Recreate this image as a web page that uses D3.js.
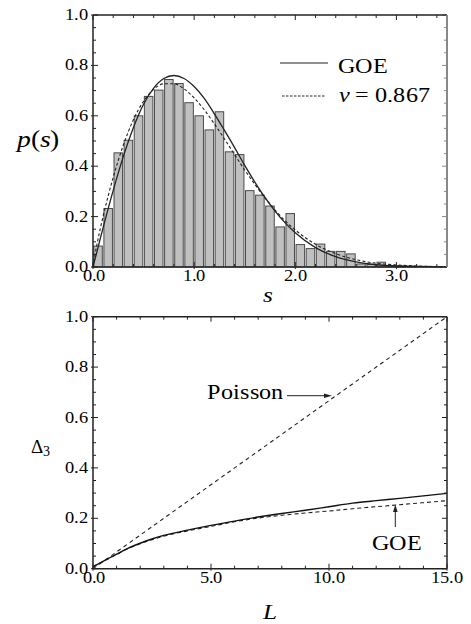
<!DOCTYPE html>
<html><head><meta charset="utf-8">
<script src="https://cdn.jsdelivr.net/npm/d3@7"></script>
<style>
@font-face{font-family:"CS";font-style:normal;src:local("Liberation Serif"),local("LiberationSerif");}
@font-face{font-family:"CS";font-style:italic;src:local("Liberation Serif Italic"),local("LiberationSerif-Italic");}
svg text{font-family:"CS","Liberation Serif",Tinos,Times,serif !important}
</style>
</head><body style="margin:0"><svg id="c" width="471" height="624"></svg>
<script>
// ---------- data ----------
const binStarts = [0.0,0.1,0.2,0.3,0.4,0.5,0.6,0.7,0.8,0.9,1.0,1.1,1.2,1.3,1.4,1.5,1.6,1.7,1.8,1.9,2.0,2.1,2.2,2.3,2.4,2.5,2.6,2.7,2.8,2.9,3.0,3.1];
const binHeights = [0.083,0.232,0.453,0.503,0.600,0.677,0.702,0.744,0.728,0.652,0.600,0.544,0.616,0.457,0.446,0.303,0.285,0.242,0.159,0.212,0.089,0.073,0.091,0.062,0.062,0.052,0.012,0.010,0.019,0.005,0.004,0.003];
const sGrid  = [0,0.02,0.05,0.1,0.2,0.3,0.4,0.5,0.6,0.7,0.8,0.9,1.0,1.1,1.2,1.3,1.4,1.5,1.6,1.7,1.8,1.9,2.0,2.2,2.4,2.6,2.8,3.0,3.2,3.5];
const goeP   = [0,0.031,0.078,0.156,0.304,0.439,0.554,0.646,0.710,0.748,0.760,0.748,0.716,0.669,0.608,0.542,0.474,0.403,0.337,0.276,0.222,0.175,0.136,0.077,0.041,0.020,0.009,0.004,0.002,0.0004];
const nuP    = [0,0.050,0.111,0.201,0.356,0.484,0.585,0.658,0.705,0.727,0.727,0.707,0.671,0.624,0.568,0.508,0.446,0.385,0.328,0.274,0.226,0.183,0.147,0.090,0.053,0.029,0.015,0.008,0.004,0.001];
const legendLabels = ["GOE", "= 0.867"];

const L_grid   = [0,0.5,1,1.5,2,2.5,3,4,5,6,7,8,9,10,11,12,13,14,15];
const delta3Data = [0.008,0.033,0.058,0.082,0.101,0.118,0.132,0.153,0.172,0.189,0.205,0.219,0.232,0.246,0.260,0.270,0.279,0.289,0.299];
const delta3GOE  = [0.008,0.032,0.056,0.080,0.099,0.115,0.129,0.150,0.168,0.186,0.201,0.212,0.221,0.229,0.238,0.246,0.254,0.262,0.270];
const poissonL = [0,15];
const poissonV = [0,1];

const topXTicks = [0,1,2,3];
const yTicks = [0,0.2,0.4,0.6,0.8,1.0];
const botXTicks = [0,5,10,15];

// ---------- helpers ----------
const svg = d3.select("#c");
const SX = 1.15;
function stretch(t){
  const n = t.node();
  const w = n.getComputedTextLength();
  if (w > 0) t.attr("textLength", (w*SX).toFixed(2)).attr("lengthAdjust","spacingAndGlyphs");
  return t;
}
function txt(g, x, y, s, size, anchor, italic){
  const t = g.append("text").attr("x",x).attr("y",y)
    .attr("font-size",size).attr("text-anchor",anchor||"start");
  if (italic) t.attr("font-style","italic");
  t.text(s);
  return stretch(t);
}
function frame(x, y, opts){
  const g = svg.append("g");
  const [x0,x1]=x.range(), [y0,y1]=y.range();
  const xd=x.domain(), yd=y.domain();
  const xMinor=d3.range(xd[0],xd[1]+1e-9,opts.xMinor), yMinor=d3.range(yd[0],yd[1]+1e-9,opts.yMinor);
  const isMaj=(v,step)=>Math.abs(v/step-Math.round(v/step))<1e-6;
  xMinor.forEach(v=>{
    const L=isMaj(v,opts.xMajor)?5:3, px=x(v);
    g.append("line").attr("x1",px).attr("x2",px).attr("y1",y0+(L>3?2:0)).attr("y2",y0-L).attr("stroke","#222");
    g.append("line").attr("x1",px).attr("x2",px).attr("y1",y1).attr("y2",y1+L).attr("stroke","#222");
  });
  yMinor.forEach(v=>{
    const L=isMaj(v,opts.yMajor)?5:3, py=y(v);
    g.append("line").attr("x1",x0-(L>3?2:0)).attr("x2",x0+L).attr("y1",py).attr("y2",py).attr("stroke","#222");
    g.append("line").attr("x1",x1).attr("x2",x1-L).attr("y1",py).attr("y2",py).attr("stroke",opts.rightColor||"#222");
  });
  g.append("path").attr("d",`M${x0},${y1}V${y0}H${x1}`).attr("fill","none").attr("stroke","#222").attr("stroke-width",1.5);
  g.append("path").attr("d",`M${x0},${y1}H${x1}`).attr("stroke","#222").attr("stroke-width",1.5);
  g.append("path").attr("d",`M${x1},${y1}V${y0}`).attr("stroke",opts.rightColor||"#222").attr("stroke-width",opts.rightW||1.5);
  opts.xLabels.forEach((v,i)=>txt(g,x(v)+(i===0?1:0),y0+14,v.toFixed(1),15.5,"middle"));
  yTicks.forEach(v=>txt(g,x0-5,y(v)+5,v.toFixed(1),15.5,"end"));
}

// ---------- top chart ----------
const xs = d3.scaleLinear().domain([0,3.5]).range([93,447]);
const ys = d3.scaleLinear().domain([0,1]).range([267,15]);
const gTop = svg.append("g");
gTop.selectAll("rect").data(binStarts).join("rect")
  .attr("x",(d)=>xs(d)+0.8).attr("width",(d)=>xs(d+0.1)-xs(d)-1.6)
  .attr("y",(d,i)=>ys(binHeights[i])).attr("height",(d,i)=>ys(0)-ys(binHeights[i]))
  .attr("fill","#c0c0c0").attr("stroke","#4a4a4a").attr("stroke-width",1);
const lineTop = d3.line().x((d,i)=>xs(sGrid[i])).y(d=>ys(d)).curve(d3.curveMonotoneX);
gTop.append("path").attr("d",lineTop(goeP)).attr("fill","none").attr("stroke","#222").attr("stroke-width",1.3);
gTop.append("path").attr("d",lineTop(nuP)).attr("fill","none").attr("stroke","#222").attr("stroke-width",1.1).attr("stroke-dasharray","3,2.2");
frame(xs, ys, {xMinor:0.2,xMajor:1,yMinor:0.05,yMajor:0.2,xLabels:topXTicks,rightColor:"#888",rightW:2});
// legend
gTop.append("line").attr("x1",280).attr("x2",328).attr("y1",63).attr("y2",63).attr("stroke","#222").attr("stroke-width",1.1);
txt(gTop,338,73,legendLabels[0],20.5,"start");
gTop.append("line").attr("x1",282).attr("x2",325).attr("y1",96).attr("y2",96).attr("stroke","#222").attr("stroke-width",1.1).attr("stroke-dasharray","2.5,1.5");
const nu = gTop.append("text").attr("x",339).attr("y",102).attr("font-size",20.5);
nu.append("tspan").attr("font-style","italic").text("ν");
nu.append("tspan").text(" " + legendLabels[1]);
stretch(nu);
// y label p(s)
const ps = svg.append("text").attr("x",17).attr("y",147).attr("font-size",24);
ps.append("tspan").attr("font-style","italic").text("p");
ps.append("tspan").text("(");
ps.append("tspan").attr("font-style","italic").text("s");
ps.append("tspan").text(")");
stretch(ps);
txt(svg,268,302,"s",22,"middle",true);

// ---------- bottom chart ----------
const xb = d3.scaleLinear().domain([0,15]).range([93,447]);
const yb = d3.scaleLinear().domain([0,1]).range([568.7,316.7]);
const gBot = svg.append("g");
const lineBot = d3.line().x((d,i)=>xb(L_grid[i])).y(d=>yb(d)).curve(d3.curveMonotoneX);
gBot.append("path").attr("d",d3.line().x((d,i)=>xb(poissonL[i])).y(d=>yb(d))(poissonV))
  .attr("fill","none").attr("stroke","#222").attr("stroke-width",1.1).attr("stroke-dasharray","4,3.5");
gBot.append("path").attr("d",lineBot(delta3GOE)).attr("fill","none").attr("stroke","#222").attr("stroke-width",1.1).attr("stroke-dasharray","4,3");
gBot.append("path").attr("d",lineBot(delta3Data)).attr("fill","none").attr("stroke","#111").attr("stroke-width",1.4);
frame(xb, yb, {xMinor:1,xMajor:5,yMinor:0.05,yMajor:0.2,xLabels:botXTicks});
// annotations
txt(gBot,207,399,"Poisson",20.5,"start");
gBot.append("line").attr("x1",287).attr("x2",326).attr("y1",395.7).attr("y2",395.7).attr("stroke","#222").attr("stroke-width",1);
gBot.append("path").attr("d","M332,395.7L324,393.4L324,398Z").attr("fill","#222");
txt(gBot,372,550,"GOE",20.5,"start");
gBot.append("line").attr("x1",395.3).attr("x2",395.3).attr("y1",527).attr("y2",510).attr("stroke","#222").attr("stroke-width",1);
gBot.append("path").attr("d","M395.3,504.5L393,512L397.6,512Z").attr("fill","#222");
// labels
const dl = svg.append("text").attr("x",31).attr("y",453).attr("font-size",19);
dl.append("tspan").text("Δ");
dl.append("tspan").attr("font-size",14).attr("dy",3).text("3");
txt(svg,270,619,"L",22,"middle",true);
</script></body></html>
